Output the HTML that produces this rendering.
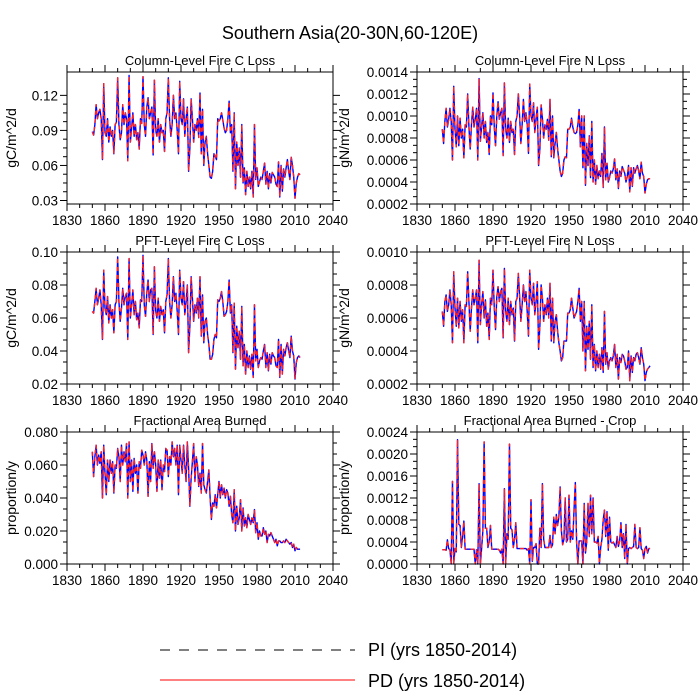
<!DOCTYPE html>
<html><head><meta charset="utf-8"><style>
body{margin:0;background:#fff;}
svg{display:block;font-family:"Liberation Sans",sans-serif;}
</style></head><body>
<svg id="chart" width="700" height="700" viewBox="0 0 700 700" xmlns="http://www.w3.org/2000/svg">
<text x="350" y="39" text-anchor="middle" font-size="18">Southern Asia(20-30N,60-120E)</text>
<g>
<line x1="160" y1="650" x2="355" y2="650" stroke="#000" stroke-width="1" stroke-dasharray="10,9"/>
<text x="368" y="656" font-size="18">PI (yrs 1850-2014)</text>
<line x1="160" y1="680" x2="355" y2="680" stroke="#f00" stroke-width="1"/>
<text x="368" y="687" font-size="18">PD (yrs 1850-2014)</text>
</g>
</svg>
<script>
const startYear = 1850;
const xTicks = [1830,1860,1890,1920,1950,1980,2010,2040];
// Column-level fire C loss (units 1e-3 gC/m^2/d)
const colCLoss = [89,86,95,112,100,105,108,100,65,130, 88,85,100,80,93,85,90,70,95,97, 135,95,82,88,112,95,105,100,64,137, 80,92,105,85,95,82,88,74,100,96, 136,95,85,110,118,100,105,110,69,133, 90,85,100,80,95,88,90,72,100,105, 135,100,85,95,120,100,105,90,70,132, 100,95,117,85,100,110,55,75,117,100, 80,95,90,100,84,122,70,108,60,80, 85,70,60,50,49,55,70,68,65,100, 98,100,105,99,92,88,90,100,115,88, 95,55,105,40,80,60,75,50,95,45, 58,35,55,42,50,40,55,33,95,48, 58,42,46,50,48,55,62,44,55,40, 53,45,54,52,50,44,42,63,33,60, 38,57,50,58,65,55,48,67,60,50, 32,45,50,53,52];
// Column-level fire N loss (units 1e-5 gN/m^2/d)
const colNLoss = [88,75,95,107,90,97,107,95,60,127, 88,72,100,73,98,80,88,62,92,90, 120,90,70,92,108,90,97,107,60,134, 77,90,103,80,95,76,85,65,100,92, 121,90,73,100,113,97,103,107,64,130, 88,80,98,76,95,85,88,65,95,100, 120,100,75,92,115,95,103,92,66,129, 100,95,112,85,98,108,55,70,110,98, 80,92,88,97,78,115,63,100,62,75, 85,70,60,50,45,48,60,63,62,88, 88,90,98,90,85,84,85,92,106,72, 100,53,100,37,75,55,82,44,95,40, 60,38,55,43,50,45,66,35,90,42, 57,40,44,50,48,52,61,42,52,34, 50,45,54,51,48,40,45,55,31,53, 36,53,48,52,55,50,43,58,48,45, 30,38,42,43,43];
// PFT-level fire C loss (units 1e-3)
const pftCLoss = [64,63,70,78,68,72,77,68,47,89, 66,62,73,57,68,60,65,51,68,70, 97,70,58,66,78,68,73,75,47,96, 60,68,77,62,70,59,63,54,71,70, 98,68,61,75,83,70,77,78,50,91, 64,60,72,58,67,62,65,51,70,74, 96,70,60,68,85,70,75,64,50,89, 72,68,82,62,70,80,39,55,85,72, 58,68,63,72,60,85,49,74,45,58, 60,50,44,35,35,38,47,50,48,71, 70,72,76,70,61,62,64,70,83,63, 68,39,69,29,55,42,52,35,67,31, 44,26,40,30,37,29,38,24,68,34, 41,30,34,36,35,40,44,30,39,28, 38,32,39,37,36,31,30,47,24,44, 26,41,37,42,45,40,36,49,40,37, 23,33,36,37,36];
// PFT-level fire N loss (units 1e-5)
const pftNLoss = [64,55,70,74,64,68,77,68,45,88, 66,55,72,54,70,58,65,45,68,67, 88,70,52,66,77,68,72,77,45,95, 56,68,76,60,71,55,63,47,72,68, 89,66,53,73,79,70,76,78,48,90, 64,58,72,56,70,62,66,46,70,72, 87,73,58,68,80,70,76,64,49,89, 72,68,81,62,70,82,41,55,80,72, 58,68,62,72,60,81,46,72,45,58, 62,52,45,40,34,36,46,46,46,63, 63,65,72,66,60,62,64,70,78,58, 70,40,70,28,55,41,58,35,68,30, 44,28,40,30,38,29,42,27,64,32, 39,29,34,36,34,37,44,30,38,23, 36,33,38,37,34,29,30,40,22,37, 27,36,34,38,39,36,32,42,36,32, 22,27,29,30,31];
// Fractional area burned (units 1e-3 /y)
const areaBurned = [68,53,65,72,60,66,61,68,40,72, 55,42,63,50,63,55,62,43,60,58, 70,65,50,72,60,68,62,73,40,74, 50,63,44,64,55,60,43,62,58,69, 66,60,68,63,41,62,50,73,58,68, 60,44,63,52,63,45,60,56,70,69, 53,65,60,74,65,70,60,72,42,72, 63,55,72,60,50,74,58,35,52,62, 73,50,65,60,47,55,43,73,48,45, 43,50,57,40,27,37,35,42,34,42, 50,40,48,42,46,40,45,43,35,41, 30,25,45,20,35,24,28,39,20,34, 23,28,22,30,27,24,28,25,33,19, 25,15,20,17,17,22,18,20,13,18, 17,19,17,15,13,15,11,14,14,13, 13,14,13,15,14,13,12,13,10,12, 8,10,9,9,9];
// Fractional area burned - crop (units 1e-5 /y)
const cropBurned = [26,26,26,25,44,28,26,0,150,0, 28,22,226,72,70,30,50,78,27,27, 27,27,27,27,27,27,0,26,0,146, 0,28,60,222,65,65,30,40,70,27, 27,27,27,27,27,25,20,27,0,137, 0,55,45,218,65,62,30,45,75,28, 28,28,28,28,28,28,28,25,28,0, 117,5,30,30,37,0,0,65,30,146, 45,30,30,30,30,52,30,35,85,55, 90,70,85,140,60,35,45,120,40,45, 125,40,60,45,100,148,40,0,42,42, 42,0,110,20,40,110,50,125,55,120, 40,40,38,50,0,30,45,80,98,50, 95,25,85,40,38,40,35,30,50,32, 42,75,30,55,10,72,0,28,30,28, 30,32,72,30,28,30,66,28,25,10, 28,32,20,28,28];

const yTicks1 = [30,60,90,120]; const yLabels1 = ["0.03","0.06","0.09","0.12"];
const yTicks2 = [20,40,60,80,100,120,140]; const yLabels2 = ["0.0002","0.0004","0.0006","0.0008","0.0010","0.0012","0.0014"];
const yTicks3 = [20,40,60,80,100]; const yLabels3 = ["0.02","0.04","0.06","0.08","0.10"];
const yTicks4 = [20,40,60,80,100]; const yLabels4 = ["0.0002","0.0004","0.0006","0.0008","0.0010"];
const yTicks5 = [0,20,40,60,80]; const yLabels5 = ["0.000","0.020","0.040","0.060","0.080"];
const yTicks6 = [0,40,80,120,160,200,240]; const yLabels6 = ["0.0000","0.0004","0.0008","0.0012","0.0016","0.0020","0.0024"];

const panels = [
 {name:'column-c-loss',title:'Column-Level Fire C Loss',ylab:'gC/m^2/d',data:colCLoss,x:67,y:72,ymin:27,ymax:140,ticks:yTicks1,labels:yLabels1,minor:3,labX:11},
 {name:'column-n-loss',title:'Column-Level Fire N Loss',ylab:'gN/m^2/d',data:colNLoss,x:417,y:72,ymin:20,ymax:140,ticks:yTicks2,labels:yLabels2,minor:2,labX:344},
 {name:'pft-c-loss',title:'PFT-Level Fire C Loss',ylab:'gC/m^2/d',data:pftCLoss,x:67,y:252,ymin:20,ymax:100,ticks:yTicks3,labels:yLabels3,minor:2,labX:11},
 {name:'pft-n-loss',title:'PFT-Level Fire N Loss',ylab:'gN/m^2/d',data:pftNLoss,x:417,y:252,ymin:20,ymax:100,ticks:yTicks4,labels:yLabels4,minor:2,labX:344},
 {name:'area-burned',title:'Fractional Area Burned',ylab:'proportion/y',data:areaBurned,x:67,y:432,ymin:0,ymax:80,ticks:yTicks5,labels:yLabels5,minor:2,labX:11},
 {name:'crop-area-burned',title:'Fractional Area Burned - Crop',ylab:'proportion/y',data:cropBurned,x:417,y:432,ymin:0,ymax:240,ticks:yTicks6,labels:yLabels6,minor:2,labX:344}
];
const svg = document.getElementById('chart');
const NS = 'http://www.w3.org/2000/svg';
function mk(tag, attrs, parent){const e=document.createElementNS(NS,tag);for(const k in attrs)e.setAttribute(k,attrs[k]);parent.appendChild(e);return e;}
const W=266,H=132;
panels.forEach(p=>{
  const g = mk('g',{},svg);
  
  
  const xs = yr => p.x + (yr-1830)/(2040-1830)*W;
  const ys = v => p.y + H - (v-p.ymin)/(p.ymax-p.ymin)*H;
  for(let yr=1830; yr<=2040; yr+=10){
    const major = (yr-1830)%30===0; const L = major?7:4; const X=xs(yr);
    const t1 = mk('line',{x1:X,y1:p.y+H,x2:X,y2:p.y+H+L,stroke:'#000','stroke-width':1},g);
    
    
    const t2 = mk('line',{x1:X,y1:p.y,x2:X,y2:p.y-L,stroke:'#000','stroke-width':1},g);
    
    
  }
  xTicks.forEach(yr=>{
    const t = mk('text',{x:xs(yr),y:p.y+H+21,'text-anchor':'middle','font-size':13.5},g);
    
    
    t.textContent = yr;
  });
  const step = p.ticks[1]-p.ticks[0];
  for(let i=0;i<p.ticks.length;i++){
    for(let m=0;m<=p.minor;m++){
      const v = p.ticks[i] + (m===0?0:step*m/(p.minor+1));
      if(m>0 && i===p.ticks.length-1) continue;
      if(v<p.ymin||v>p.ymax) continue;
      const L = m===0?7:4; const Y=ys(v);
      const a = mk('line',{x1:p.x,y1:Y,x2:p.x-L,y2:Y,stroke:'#000','stroke-width':1},g);
      
      
      const b = mk('line',{x1:p.x+W,y1:Y,x2:p.x+W+L,y2:Y,stroke:'#000','stroke-width':1},g);
      
      
    }
  }
  for(let m=1;m<=p.minor;m++){
    const v = p.ticks[0]-step*m/(p.minor+1);
    if(v<p.ymin) continue;
    const Y=ys(v);
    const a = mk('line',{x1:p.x,y1:Y,x2:p.x-4,y2:Y,stroke:'#000','stroke-width':1},g);
    
    
    const b = mk('line',{x1:p.x+W,y1:Y,x2:p.x+W+4,y2:Y,stroke:'#000','stroke-width':1},g);
    
    
  }
  p.ticks.forEach((v,i)=>{
    const t = mk('text',{x:p.x-9,y:ys(v)+5,'text-anchor':'end','font-size':13.5},g);
    
    
    t.textContent = p.labels[i];
  });
  const pts = p.data.map((v,i)=>xs(startYear+i).toFixed(2)+','+ys(v).toFixed(2)).join(' ');
  const s1 = mk('polyline',{points:pts,fill:'none',stroke:'#0000ff','stroke-width':1.4,'stroke-linejoin':'round'},g);
  
  
  const s2 = mk('polyline',{points:pts,fill:'none',stroke:'#ff2020','stroke-width':1.4,'stroke-dasharray':'4,4','stroke-linejoin':'round'},g);
  
  
  const f = mk('rect',{x:p.x,y:p.y,width:W,height:H,fill:'none',stroke:'#000','stroke-width':1},g);
  
  
  const tt = mk('text',{x:p.x+W/2,y:p.y-7,'text-anchor':'middle','font-size':13},g);
  
  
  tt.textContent = p.title;
  const yl = mk('text',{x:p.labX,y:p.y+H/2,'text-anchor':'middle','font-size':14,transform:'rotate(-90 '+p.labX+' '+(p.y+H/2)+')'},g);
  
  
  yl.setAttribute('dy','5');
  yl.textContent = p.ylab;
});
</script>
</body></html>
